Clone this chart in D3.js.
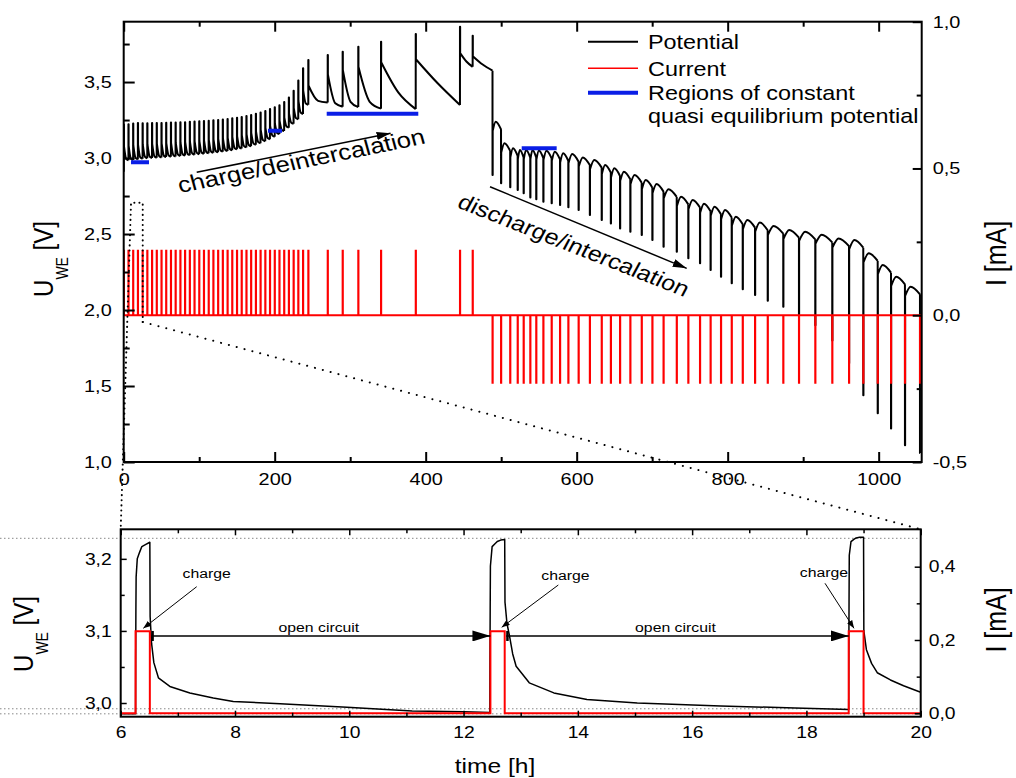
<!DOCTYPE html>
<html>
<head>
<meta charset="utf-8">
<script src="https://cdn.jsdelivr.net/npm/d3@7"></script>
<style>
  html, body { margin: 0; padding: 0; background: #fff; }
  svg { display: block; font-family: "Liberation Sans", Arial, sans-serif; }
</style>
</head>
<body>
<svg id="chart" width="1016" height="778"></svg>
<script>
// ---------------------------------------------------------------------------
// Data
// ---------------------------------------------------------------------------

// Densely pulsed charge (h): pulse start, potential at end of pulse, potential at end of rest
const denseChargeStart = [0.1, 6.26, 12.47, 18.74, 25.0, 31.2, 37.5, 43.7, 50.0, 56.2,
  62.5, 68.7, 75.0, 81.2, 87.5, 93.7, 100.0, 106.2, 112.5, 118.7,
  125.0, 131.2, 137.5, 143.7, 150.0, 156.2, 162.5, 168.7, 175.0, 181.2,
  187.5, 193.7, 200.0, 206.2, 212.5, 218.7, 225.0, 231.2, 237.5, 244.5];
const denseChargePeak = [3.220, 3.223, 3.227, 3.230, 3.229, 3.229, 3.230, 3.230, 3.231, 3.232,
  3.233, 3.234, 3.235, 3.236, 3.238, 3.240, 3.242, 3.244, 3.246, 3.248,
  3.251, 3.254, 3.257, 3.261, 3.265, 3.270, 3.276, 3.283, 3.291, 3.300,
  3.310, 3.322, 3.334, 3.348, 3.368, 3.398, 3.442, 3.510, 3.590, 3.645];
const denseChargeRest = [2.985, 2.987, 2.991, 2.995, 2.998, 3.000, 3.002, 3.004, 3.006, 3.008,
  3.010, 3.013, 3.016, 3.019, 3.022, 3.025, 3.028, 3.031, 3.034, 3.038,
  3.042, 3.046, 3.051, 3.057, 3.063, 3.070, 3.078, 3.087, 3.097, 3.110,
  3.124, 3.140, 3.158, 3.178, 3.200, 3.225, 3.255, 3.290, 3.350, 3.365];
const initialPotential = 2.91;

// Widely spaced charge pulses at the end of the charge
const lateChargeStart = [270.2, 290.0, 310.7, 340.8, 386.8, 445.4, 462.2];
const lateChargePeak  = [3.678, 3.700, 3.732, 3.765, 3.816, 3.864, 3.805];
const lateChargeKnee  = [3.550, 3.580, 3.600, 3.630, 3.650, 3.690, 3.670];
const lateChargeMid   = [3.360, 3.370, 3.370, 3.430, 3.490, 3.635, 3.615];
const lateChargeRest  = [3.338, 3.335, 3.325, 3.322, 3.349, 3.600, 3.575];

// Discharge pulses: start (h), potential at end of pulse, relaxed potential after the pulse
const dischargeStart = [488.5, 499.8, 511.9, 521.8, 529.7, 538.5, 546.4, 555.8, 566.8, 577.9,
  588.9, 602.5, 617.4, 633.1, 645.2, 657.4, 671.0, 686.1, 700.2, 715.0,
  732.5, 747.8, 763.3, 777.3, 791.1, 805.3, 819.9, 836.2, 853.0, 873.6,
  894.4, 916.0, 938.5, 960.7, 979.6, 998.7, 1016.3, 1034.8, 1054.7];
const dischargeMin = [2.888, 2.834, 2.807, 2.789, 2.768, 2.741, 2.728, 2.712, 2.702, 2.691,
  2.676, 2.658, 2.625, 2.592, 2.570, 2.537, 2.515, 2.493, 2.461, 2.416,
  2.384, 2.340, 2.307, 2.263, 2.219, 2.176, 2.136, 2.099, 2.061, 2.022,
  1.970, 1.900, 1.800, 1.650, 1.440, 1.320, 1.220, 1.110, 1.060];
const dischargeTop = [3.239, 3.097, 3.064, 3.053, 3.053, 3.053, 3.050, 3.048, 3.041, 3.031,
  3.026, 3.004, 2.987, 2.954, 2.932, 2.910, 2.888, 2.855, 2.829, 2.794,
  2.745, 2.724, 2.700, 2.680, 2.658, 2.614, 2.592, 2.575, 2.553, 2.526,
  2.515, 2.495, 2.470, 2.460, 2.373, 2.296, 2.219, 2.153, 2.100];

const pulseLength = 0.25;       // h
const chargeCurrent = 0.22;     // mA
const dischargeCurrent = -0.23; // mA
const timeEnd = 1057;

// Regions of constant quasi equilibrium potential
const plateauStart = [9.7, 191.1, 268.9, 527.2];
const plateauEnd   = [33.5, 209.7, 390.2, 573.5];
const plateauLevel = [2.972, 3.180, 3.292, 3.064];

// Detail 6–20 h: potential trace
const detailTime = [6.0, 6.26, 6.262, 6.266, 6.27, 6.29, 6.33, 6.37, 6.44, 6.51,
  6.515, 6.54, 6.58, 6.66, 6.86, 7.21, 7.62, 7.97, 8.79, 9.96, 11.1, 12.0, 12.46,
  12.462, 12.466, 12.47, 12.50, 12.55, 12.59, 12.65, 12.72,
  12.725, 12.76, 12.80, 12.86, 12.92, 13.15, 13.58, 14.16, 15.04, 16.5, 17.8, 18.74,
  18.742, 18.746, 18.75, 18.78, 18.83, 18.87, 18.93, 19.0,
  19.005, 19.05, 19.14, 19.24, 19.47, 19.70, 19.93, 20.0];
const detailPotential = [2.985, 2.985, 3.06, 3.13, 3.175, 3.200, 3.209, 3.217, 3.220, 3.223,
  3.12, 3.083, 3.056, 3.035, 3.023, 3.014, 3.007, 3.002, 2.999, 2.994, 2.989, 2.988, 2.987,
  3.06, 3.13, 3.190, 3.217, 3.221, 3.224, 3.226, 3.227,
  3.14, 3.11, 3.095, 3.068, 3.051, 3.028, 3.014, 3.005, 3.000, 2.996, 2.993, 2.991,
  3.06, 3.14, 3.205, 3.224, 3.227, 3.229, 3.230, 3.230,
  3.10, 3.074, 3.055, 3.042, 3.032, 3.024, 3.017, 3.015];
const detailPulseOn  = [6.26, 12.47, 18.74];
const detailPulseOff = [6.51, 12.72, 19.0];
const detailCurrent = 0.224;

// Tick values
const xTicksMain = [0, 200, 400, 600, 800, 1000];
const xMinorMain = [100, 300, 500, 700, 900];
const uTicksMain = [1.0, 1.5, 2.0, 2.5, 3.0, 3.5];
const uMinorMain = [1.25, 1.75, 2.25, 2.75, 3.25, 3.75];
const iTicksMain = [-0.5, 0.0, 0.5, 1.0];
const iMinorMain = [-0.25, 0.25, 0.75];
const xTicksDetail = [6, 8, 10, 12, 14, 16, 18, 20];
const xMinorDetail = [7, 9, 11, 13, 15, 17, 19];
const uTicksDetail = [3.0, 3.1, 3.2];
const uMinorDetail = [3.05, 3.15];
const iTicksDetail = [0.0, 0.2, 0.4];
const iMinorDetail = [0.1, 0.3];

// ---------------------------------------------------------------------------
// Layout and scales
// ---------------------------------------------------------------------------
const SX = 1.17; // horizontal widening of the lettering
const svg = d3.select("#chart");
const P1 = { l: 123.7, r: 921.7, t: 21.7, b: 462 };
const P2 = { l: 120.7, r: 920.7, t: 529.3, b: 716.7 };

const x1 = d3.scaleLinear([0, timeEnd], [P1.l, P1.r]);
const yU1 = d3.scaleLinear([1.0, 3.897], [P1.b, P1.t]);
const yI1 = d3.scaleLinear([-0.5, 1.0], [P1.b, P1.t]);
const x2 = d3.scaleLinear([6, 20], [P2.l, P2.r]);
const yU2 = d3.scaleLinear([2.981, 3.241], [P2.b, P2.t]);
const yI2 = d3.scaleLinear([-0.0093, 0.502], [P2.b, P2.t]);

const comma1 = v => v.toFixed(1).replace(".", ",");

const defs = svg.append("defs");
[["clipMain", P1], ["clipDetail", P2]].forEach(([id, p]) => {
  defs.append("clipPath").attr("id", id).append("rect")
    .attr("x", p.l).attr("y", p.t).attr("width", p.r - p.l).attr("height", p.b - p.t);
});
function marker(id, len, half) {
  defs.append("marker").attr("id", id)
    .attr("markerUnits", "userSpaceOnUse")
    .attr("viewBox", `0 0 ${len} ${2 * half}`)
    .attr("markerWidth", len).attr("markerHeight", 2 * half)
    .attr("refX", len).attr("refY", half).attr("orient", "auto")
    .append("path").attr("d", `M0,0L${len},${half}L0,${2 * half}Z`).attr("fill", "#000");
}
marker("headLarge", 14, 4);
marker("headOpen", 18, 5.5);
marker("headSmall", 8, 3);

// ---------------------------------------------------------------------------
// Main panel: potential
// ---------------------------------------------------------------------------
const lin1 = d3.line().x(d => x1(d[0])).y(d => yU1(d[1]));
const mono1 = d3.line().x(d => x1(d[0])).y(d => yU1(d[1])).curve(d3.curveMonotoneX);

// charge cycles in time order
const chargeCycles = denseChargeStart.map((t, i) => {
  const p = denseChargePeak[i], r = denseChargeRest[i];
  // short open-circuit relaxation: fast drop after switch-off, then slow approach to rest
  return { t, peak: p, knee: r + 0.4 * (p - r), mid: r + 0.04 * (p - r), rest: r };
}).concat(lateChargeStart.map((t, i) => ({
  t, peak: lateChargePeak[i], knee: lateChargeKnee[i], mid: lateChargeMid[i], rest: lateChargeRest[i]
})));

let potentialD = "";
let prevV = initialPotential;
chargeCycles.forEach((c, i) => {
  const tNext = i + 1 < chargeCycles.length ? chargeCycles[i + 1].t : dischargeStart[0];
  const tOff = c.t + pulseLength;
  potentialD += lin1([[c.t, prevV], [c.t, c.peak], [tOff, c.peak], [tOff, c.knee]]);
  potentialD += mono1([[tOff, c.knee], [(tOff + tNext) / 2, c.mid], [tNext, c.rest]]);
  prevV = c.rest;
});
dischargeStart.forEach((t, i) => {
  const tOff = t + pulseLength;
  const top = dischargeTop[i];
  if (i + 1 < dischargeStart.length) {
    const tNext = dischargeStart[i + 1];
    // recovery after the pulse rounds over into a slowly sinking open-circuit potential
    const knee = top - 0.06, end = top - 0.05;
    potentialD += lin1([[t, prevV], [t, dischargeMin[i]], [tOff, dischargeMin[i]], [tOff, knee]]);
    potentialD += mono1([[tOff, knee], [t + 0.38 * (tNext - t), top], [tNext, end]]);
    prevV = end;
  } else {
    potentialD += lin1([[t, prevV], [t, dischargeMin[i]], [Math.min(tOff, timeEnd), dischargeMin[i]]]);
  }
});

const gMain = svg.append("g").attr("clip-path", "url(#clipMain)");
gMain.append("path").attr("d", potentialD)
  .attr("fill", "none").attr("stroke", "#000").attr("stroke-width", 2)
  .attr("stroke-linejoin", "round");

// plateaus
plateauLevel.forEach((v, i) => {
  gMain.append("line")
    .attr("x1", x1(plateauStart[i])).attr("x2", x1(plateauEnd[i]))
    .attr("y1", yU1(v)).attr("y2", yU1(v))
    .attr("stroke", "#0a1ee6").attr("stroke-width", 4);
});

// current
const pulses = chargeCycles.map(c => [c.t, chargeCurrent])
  .concat(dischargeStart.map(t => [t, dischargeCurrent]));
const currentPts = [[0, 0]];
pulses.forEach(([t, cur]) => {
  currentPts.push([t, 0], [t, cur], [t + pulseLength, cur], [t + pulseLength, 0]);
});
currentPts.push([timeEnd, 0]);
gMain.append("path")
  .attr("d", d3.line().x(d => x1(d[0])).y(d => yI1(d[1]))(currentPts))
  .attr("fill", "none").attr("stroke", "#ff0000").attr("stroke-width", 2);

// ---------------------------------------------------------------------------
// Detail panel
// ---------------------------------------------------------------------------
// reference levels
[3.2285, 2.992, 2.985].forEach(v => {
  svg.append("line").attr("x1", 0).attr("x2", P2.r)
    .attr("y1", yU2(v)).attr("y2", yU2(v))
    .attr("stroke", "#888").attr("stroke-width", 1).attr("stroke-dasharray", "1.5,2.5");
});

const gDet = svg.append("g").attr("clip-path", "url(#clipDetail)");
gDet.append("path")
  .attr("d", d3.line().x((d, i) => x2(d)).y((d, i) => yU2(detailPotential[i]))(detailTime))
  .attr("fill", "none").attr("stroke", "#000").attr("stroke-width", 1.5).attr("stroke-linejoin", "round");

const detCur = [[6, 0]];
detailPulseOn.forEach((t, i) => {
  detCur.push([t, 0], [t, detailCurrent], [detailPulseOff[i], detailCurrent], [detailPulseOff[i], 0]);
});
detCur.push([20, 0]);
gDet.append("path")
  .attr("d", d3.line().x(d => x2(d[0])).y(d => yI2(d[1]))(detCur))
  .attr("fill", "none").attr("stroke", "#ff0000").attr("stroke-width", 2);

// open circuit arrows
const ocLevel = 3.093;
for (let i = 0; i < 2; i++) {
  const xa = x2(detailPulseOff[i]) + 1.5, xb = x2(detailPulseOn[i + 1]);
  svg.append("line").attr("x1", xa).attr("x2", xb)
    .attr("y1", yU2(ocLevel)).attr("y2", yU2(ocLevel))
    .attr("stroke", "#000").attr("stroke-width", 1.5).attr("marker-end", "url(#headOpen)");
  svg.append("rect").attr("x", xa).attr("y", yU2(ocLevel) - 5).attr("width", 2.5).attr("height", 10).attr("fill", "#000");
  svg.append("text").attr("transform", `translate(${(xa + xb) / 2 - 2},${yU2(ocLevel) - 4}) scale(${SX},1)`)
    .attr("text-anchor", "middle").attr("font-size", 13.5).text("open circuit");
}

// "charge" pointers
const chargeNotes = [
  { tx: 206.7, ty: 578, x0: 196.7, y0: 586.7, x1: 143.3, y1: 628.3 },
  { tx: 565.5, ty: 579.5, x0: 558.3, y0: 585, x1: 501.7, y1: 627.3 },
  { tx: 824, ty: 576.5, x0: 825, y0: 583.3, x1: 854, y1: 628.3 }
];
chargeNotes.forEach(n => {
  svg.append("text").attr("transform", `translate(${n.tx},${n.ty}) scale(${SX},1)`)
    .attr("text-anchor", "middle").attr("font-size", 13.5).text("charge");
  svg.append("line").attr("x1", n.x0).attr("y1", n.y0).attr("x2", n.x1).attr("y2", n.y1)
    .attr("stroke", "#000").attr("stroke-width", 1).attr("marker-end", "url(#headSmall)");
});

// ---------------------------------------------------------------------------
// Axes
// ---------------------------------------------------------------------------
function stretchLabels(g) {
  g.selectAll("text").each(function () {
    const t = d3.select(this);
    const x = +t.attr("x") || 0;
    t.attr("x", 0).attr("transform", `translate(${x},0) scale(${SX},1)`);
  });
}
function drawAxis(gen, translate, values, size, fmt, pad, fontSize, sw) {
  const g = svg.append("g").attr("transform", translate)
    .call(gen.tickValues(values).tickSizeInner(size).tickSizeOuter(0).tickPadding(pad)
      .tickFormat(fmt || (() => "")));
  g.select(".domain").remove();
  g.attr("font-family", null).attr("font-size", fontSize);
  g.selectAll("line").attr("stroke", "#000").attr("stroke-width", sw);
  g.selectAll("text").attr("fill", "#000");
  stretchLabels(g);
  return g;
}
// main panel
drawAxis(d3.axisBottom(x1), `translate(0,${P1.b})`, xTicksMain, -10, d3.format("d"), 11, 17, 2);
drawAxis(d3.axisBottom(x1), `translate(0,${P1.b})`, xMinorMain, -5, null, 0, 17, 2);
drawAxis(d3.axisTop(x1), `translate(0,${P1.t})`, xTicksMain, -10, null, 0, 17, 2);
drawAxis(d3.axisTop(x1), `translate(0,${P1.t})`, xMinorMain, -5, null, 0, 17, 2);
drawAxis(d3.axisLeft(yU1), `translate(${P1.l},0)`, uTicksMain, -11, comma1, 12, 17, 2);
drawAxis(d3.axisLeft(yU1), `translate(${P1.l},0)`, uMinorMain, -6, null, 0, 17, 2);
drawAxis(d3.axisRight(yI1), `translate(${P1.r},0)`, iTicksMain, -9, comma1, 11, 17, 2);
drawAxis(d3.axisRight(yI1), `translate(${P1.r},0)`, iMinorMain, -5, null, 0, 17, 2);
// detail panel
drawAxis(d3.axisBottom(x2), `translate(0,${P2.b})`, xTicksDetail, -6, d3.format("d"), 10, 16.5, 1.5);
drawAxis(d3.axisBottom(x2), `translate(0,${P2.b})`, xMinorDetail, -4, null, 0, 16.5, 1.5);
drawAxis(d3.axisTop(x2), `translate(0,${P2.t})`, xTicksDetail, -6, null, 0, 16.5, 1.5);
drawAxis(d3.axisTop(x2), `translate(0,${P2.t})`, xMinorDetail, -4, null, 0, 16.5, 1.5);
drawAxis(d3.axisLeft(yU2), `translate(${P2.l},0)`, uTicksDetail, -6, comma1, 9, 16.5, 1.5);
drawAxis(d3.axisLeft(yU2), `translate(${P2.l},0)`, uMinorDetail, -4, null, 0, 16.5, 1.5);
drawAxis(d3.axisRight(yI2), `translate(${P2.r},0)`, iTicksDetail, -6, comma1, 8, 16.5, 1.5);
drawAxis(d3.axisRight(yI2), `translate(${P2.r},0)`, iMinorDetail, -4, null, 0, 16.5, 1.5);

// frames
svg.append("rect").attr("x", P1.l).attr("y", P1.t).attr("width", P1.r - P1.l).attr("height", P1.b - P1.t)
  .attr("fill", "none").attr("stroke", "#000").attr("stroke-width", 2);
svg.append("rect").attr("x", P2.l).attr("y", P2.t).attr("width", P2.r - P2.l).attr("height", P2.b - P2.t)
  .attr("fill", "none").attr("stroke", "#000").attr("stroke-width", 2);

// ---------------------------------------------------------------------------
// Zoom window connecting the two panels
// ---------------------------------------------------------------------------
const boxL = x1(9.7), boxR = x1(25.2), boxT = yI1(0.383), boxB = yI1(-0.023);
const dots = { stroke: "#000", "stroke-width": 2, "stroke-dasharray": "0.1,5.5", "stroke-linecap": "round", fill: "none" };
function dotted(pts, gap) {
  const p = svg.append("path").attr("d", d3.line()(pts));
  Object.entries(dots).forEach(([k, v]) => p.attr(k, v));
  if (gap) p.attr("stroke-dasharray", `0.1,${gap}`);
}
dotted([[boxR, boxB], [boxR, boxT], [boxL, boxT], [P2.l, P2.t]], 5);
dotted([[boxR, boxB], [P2.r, P2.t]], 8);

// ---------------------------------------------------------------------------
// Annotations in the main panel
// ---------------------------------------------------------------------------
svg.append("line")
  .attr("x1", x1(96.7)).attr("y1", yU1(2.906)).attr("x2", x1(353.5)).attr("y2", yU1(3.163))
  .attr("stroke", "#000").attr("stroke-width", 1.5).attr("marker-end", "url(#headLarge)");
svg.append("line")
  .attr("x1", x1(485.2)).attr("y1", yU1(2.811)).attr("x2", x1(745.7)).attr("y2", yU1(2.274))
  .attr("stroke", "#000").attr("stroke-width", 1.5).attr("marker-end", "url(#headLarge)");

function tiltedText(x, y, screenAngle, size, txt) {
  const a = Math.atan(SX * Math.tan(screenAngle * Math.PI / 180)) * 180 / Math.PI;
  svg.append("text").attr("transform", `translate(${x},${y}) scale(${SX},1) rotate(${a})`)
    .attr("font-size", size).text(txt);
}
tiltedText(180, 193, -11.4, 22, "charge/deintercalation");
tiltedText(456, 207, 21.5, 21.5, "discharge/intercalation");

// legend
const legend = [
  { y: 41.7, color: "#000", w: 2, label: "Potential", base: 49 },
  { y: 68.3, color: "#ff0000", w: 1.5, label: "Current", base: 76 },
  { y: 92.7, color: "#0a1ee6", w: 4, label: "Regions of constant", base: 100 }
];
legend.forEach(l => {
  svg.append("line").attr("x1", 588).attr("x2", 638).attr("y1", l.y).attr("y2", l.y)
    .attr("stroke", l.color).attr("stroke-width", l.w);
  svg.append("text").attr("transform", `translate(648,${l.base}) scale(${SX},1)`)
    .attr("font-size", 20).text(l.label);
});
svg.append("text").attr("transform", `translate(648,123) scale(${SX},1)`)
  .attr("font-size", 20).text("quasi equilibrium potential");

// ---------------------------------------------------------------------------
// Axis titles
// ---------------------------------------------------------------------------
function uTitle(x, y) {
  const t = svg.append("text").attr("transform", `translate(${x},${y}) rotate(-90) scale(1,${SX})`)
    .attr("text-anchor", "middle").attr("font-size", 24);
  t.append("tspan").text("U");
  t.append("tspan").attr("font-size", 14).attr("dy", 13).text("WE");
  t.append("tspan").attr("dy", -13).text(" [V]");
}
function iTitle(x, y) {
  svg.append("text").attr("transform", `translate(${x},${y}) rotate(-90) scale(1,${SX})`)
    .attr("text-anchor", "middle").attr("font-size", 25).text("I [mA]");
}
uTitle(53, 259);
iTitle(1006, 253.5);
uTitle(33, 634);
iTitle(1006, 620);
svg.append("text").attr("transform", `translate(495,773) scale(${SX},1)`)
  .attr("text-anchor", "middle").attr("font-size", 21).text("time [h]");
</script>
</body>
</html>
